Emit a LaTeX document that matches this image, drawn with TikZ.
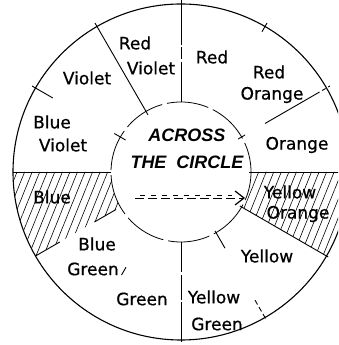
\documentclass[tikz,border=0pt]{standalone}
\usepackage{fontspec}
\setmainfont{DejaVu Sans}
\newfontfamily\labfont{DejaVu Sans}[FakeBold=0.6]
\newfontfamily\titlefont{Liberation Sans}
\usetikzlibrary{patterns.meta,arrows.meta}
\begin{document}
\begin{tikzpicture}[x=1pt,y=1pt,
  lab/.style={font=\labfont\fontsize{17}{20}\selectfont, inner sep=0pt, anchor=center},
  ttl/.style={font=\titlefont\bfseries\itshape\fontsize{18}{20}\selectfont, inner sep=0pt},
  spoke/.style={line width=0.9pt},
  hatch/.style={pattern={Lines[angle=68,distance=7pt,line width=0.6pt]}}]
\useasboundingbox (0,0) rectangle (338,345);
\coordinate (C) at (181,173);
\begin{scope}
\clip (0,0) rectangle (338,345);
% hatched sectors
\fill[hatch] ([shift={(180:168)}]C) arc[start angle=180,end angle=210,radius=168]
  -- ([shift={(210:70)}]C) arc[start angle=210,end angle=180,radius=70] -- cycle;
\fill[hatch] ([shift={(330:168)}]C) arc[start angle=330,end angle=360,radius=168]
  -- ([shift={(0:70)}]C) arc[start angle=360,end angle=330,radius=70] -- cycle;
% circles
\draw[line width=1.1pt] (C) circle[radius=168];
\draw[line width=0.8pt, dash pattern=on 42pt off 5pt, dash phase=12pt] (C) circle[radius=70];
% spokes
\draw[spoke, dash pattern=on 40pt off 3pt on 12pt off 2pt on 60pt] ([shift={(90:70)}]C) -- ([shift={(90:172)}]C);
\draw[spoke] ([shift={(120:66)}]C) -- ([shift={(120:172)}]C);
\draw[spoke] ([shift={(150:148)}]C) -- ([shift={(150:172)}]C);
\draw[spoke] ([shift={(150:64)}]C) -- ([shift={(150:77)}]C);
\draw[spoke] ([shift={(180:70)}]C) -- ([shift={(180:168)}]C);
\draw[spoke] ([shift={(210:75)}]C) -- ([shift={(210:100)}]C);
\draw[spoke] ([shift={(210:140)}]C) -- ([shift={(210:168)}]C);
\draw[spoke] ([shift={(240:110)}]C) -- ([shift={(240:119)}]C);
\draw[spoke, dash pattern=on 30pt off 3pt on 25pt off 2pt on 60pt] ([shift={(270:70)}]C) -- ([shift={(270:170)}]C);
\draw[spoke] ([shift={(300:68)}]C) -- ([shift={(300:88)}]C);
\draw[spoke, dash pattern=on 5pt off 3pt] ([shift={(300:148)}]C) -- ([shift={(300:170)}]C);
\draw[spoke] ([shift={(330:68)}]C) -- ([shift={(330:170)}]C);
\draw[spoke] ([shift={(0:68)}]C) -- ([shift={(0:170)}]C);
\draw[spoke] ([shift={(30:66)}]C) -- ([shift={(30:74)}]C);
\draw[spoke] ([shift={(30:97)}]C) -- ([shift={(30:156)}]C);
\draw[spoke, dash pattern=on 4pt off 3pt] ([shift={(30:156)}]C) -- ([shift={(30:172)}]C);
\draw[spoke] ([shift={(60:162)}]C) -- ([shift={(60:172)}]C);
\end{scope}
% labels
\node[lab] (rv1) at (135,302) {Red};
\node[lab] (rv2) at (151,277) {Violet};
\node[lab] (red) at (212,288) {Red};
\node[lab] (ro1) at (269,273) {Red};
\node[lab] (ro2) at (272,250) {Orange};
\node[lab] (org) at (297,200) {Orange};
\node[lab] (yo1) at (290,153) {Yellow};
\node[lab] (yo2) at (298,131) {Orange};
\node[lab] (yel) at (267,89) {Yellow};
\node[lab] (yg1) at (214,48) {Yellow};
\node[lab] (yg2) at (217,21) {Green};
\node[lab] (grn) at (142,46) {Green};
\node[lab] (bg1) at (97,101) {Blue};
\node[lab] (bg2) at (93,76) {Green};
\node[lab] (blu) at (52,148) {Blue};
\node[lab] (bv1) at (52,223) {Blue};
\node[lab] (bv2) at (63,200) {Violet};
\node[lab] (vio) at (87,267) {Violet};
\node[ttl] (t1) at (187,210) {ACROSS};
\node[ttl] (t2) at (187,183) {THE\ \ CIRCLE};
% arrow
\coordinate (a1) at (135,147);
\coordinate (a2) at (245,147);
\coordinate (b1) at (140,150);
\coordinate (b2) at (232,150);
\draw[line width=0.9pt, dash pattern=on 9pt off 4pt, -{Straight Barb[length=9pt,width=14pt,line width=1.2pt]}] (a1) -- (a2);
\draw[line width=0.7pt, dash pattern=on 5pt off 6pt] (b1) -- (b2);
\end{tikzpicture}
\end{document}
